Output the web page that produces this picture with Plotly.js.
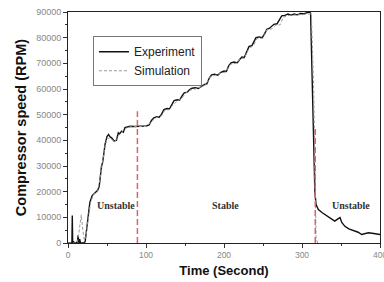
<!DOCTYPE html>
<html><head><meta charset="utf-8">
<script src="https://cdn.plot.ly/plotly-3.0.1.min.js"></script>
<style>html,body{margin:0;padding:0;background:#fff}#c{width:384px;height:282px}</style>
</head><body><div id="c"></div>
<script>
const expT = [0,4,5,5.5,6,7,9,12,13,14,15,16,20,22,25,28,31,35,38,40,41.5,43,44.5,46,47.5,50,52,54,56,59,62,64.5,66,68.8,71,73,76,79.5,85,92,96,100,104,107,110,114,117,120,123,127,130,133,136,140,143,146,149,153,156,159,163,167,171,175,178,181,184,188,192,196,200,203,206,209,213,217,220,223,226,229,232,236,238,241,245,249,252,255,258,261,264,268,271,274,278,282,286,290,294,298,302,306,309,311,316.5,318,321,326,330,334,338,342,346,348.7,351,355,360,364,368,372,376.5,380,385,390,395,400];
const expY = [0,0,0,10700,0,500,0,300,3000,0,1500,0,0,500,8000,15800,18500,19800,20500,22000,27500,30000,31500,35500,38400,41500,42300,41300,41000,39800,40000,42900,42500,43600,43200,45000,45300,45500,45400,45500,45600,45600,46000,47800,48800,49200,49000,50200,52000,52400,52200,54000,55500,55800,55600,57200,58500,58800,59800,60300,60500,60200,61000,61800,62000,64200,65500,65800,65400,66500,67000,66800,69000,70200,70500,70200,71500,72500,72300,74500,76500,77000,78500,80000,80300,80000,81500,83300,83600,84300,85200,85400,86800,88500,88700,89200,88800,89200,88900,89400,89300,89800,90000,89600,20000,15000,13000,11800,11000,10400,9500,8500,9400,9900,8000,6500,5500,5000,4600,4200,3300,3600,4000,3800,3600,3300];
const simT = [0,12,14,17,19,21,23,26,29,33,38,41,44,47,50,55,60,65,70,75,80,90,100,107,112,120,124,130,134,140,146,150,156,163,170,176,182,188,196,202,208,215,221,226,232,238,242,250,255,262,266,272,276,282,300,310,312,315,317,318,320];
const simY = [0,0,4000,11000,5000,1000,3000,10000,16000,19000,20000,25000,31000,37000,41000,40500,39500,42000,43500,44800,45300,45400,45400,47200,48700,49600,51600,52000,53600,55300,56300,58200,59500,60000,60800,61500,64600,65300,66200,66600,69500,70000,71800,72000,75800,77000,79600,79800,83000,83500,84800,85000,88000,88600,89000,89200,89300,60000,15000,2000,0];
const markT = [89, 317];
const markTop = [51300, 45000];
const regionLabels = ['Unstable','Stable','Unstable'];
const regionX = [61.5, 202.5, 363];
const regionY = [14700, 14700, 14700];
const xTicks = [0,100,200,300,400];
const yTicks = [0,10000,20000,30000,40000,50000,60000,70000,80000,90000];

const traces = [
  {x: expT, y: expY, mode:'lines', name:'Experiment', line:{color:'#111', width:1.4}},
  {x: simT, y: simY, mode:'lines', name:'Simulation', line:{color:'#999', width:1, dash:'3px,2px'}}
];
markT.forEach((t,i)=>{
  traces.push({x:[t,t], y:[0, markTop[i]], mode:'lines', showlegend:false, hoverinfo:'skip',
    line:{color:'#e0606e', width:1.5, dash:'6px,3px'}});
});

const annotations = regionLabels.map((s,i)=>({x:regionX[i], y:regionY[i], text:s, showarrow:false,
  font:{family:'Liberation Serif, Times New Roman, serif', size:10, color:'#333', weight:'bold'}}));

const axisCommon = {showline:true, linecolor:'#222', linewidth:1, mirror:true, ticks:'outside', ticklen:4, tickcolor:'#333',
  showgrid:false, zeroline:false, ticklabeloverflow:'allow', tickfont:{family:'Liberation Sans, Arial', size:8.5, color:'#888'}};

const layout = {
  width:384, height:282, margin:{l:68, r:4, t:12, b:39},
  paper_bgcolor:'#fff', plot_bgcolor:'#fff', showlegend:true,
  xaxis: Object.assign({}, axisCommon, {range:[0,400], tickvals:xTicks, ticktext:xTicks.map(String),
    minor:{ticks:'outside', ticklen:2, dtick:50, tickcolor:'#333'},
    title:{text:'<b>Time (Second)</b>', standoff:6, font:{family:'Liberation Sans, Arial', size:13, color:'#111'}}}),
  yaxis: Object.assign({}, axisCommon, {range:[0,90000], tickvals:yTicks, ticktext:yTicks.map(String),
    tickfont:{family:'Liberation Sans, Arial', size:9, color:'#888'},
    minor:{ticks:'outside', ticklen:2, dtick:5000, tickcolor:'#333'},
    title:{text:'<b>Compressor speed (RPM)</b>', standoff:6, font:{family:'Liberation Sans, Arial', size:14.5, color:'#111'}}}),
  legend:{x:0.08, y:0.895, xanchor:'left', yanchor:'top', bgcolor:'#fff', bordercolor:'#777', borderwidth:1,
    font:{family:'Liberation Sans, Arial', size:12, color:'#222'}, itemwidth:30, tracegroupgap:0},
  annotations: annotations
};
Plotly.newPlot('c', traces, layout, {staticPlot:true, displayModeBar:false});
</script></body></html>
